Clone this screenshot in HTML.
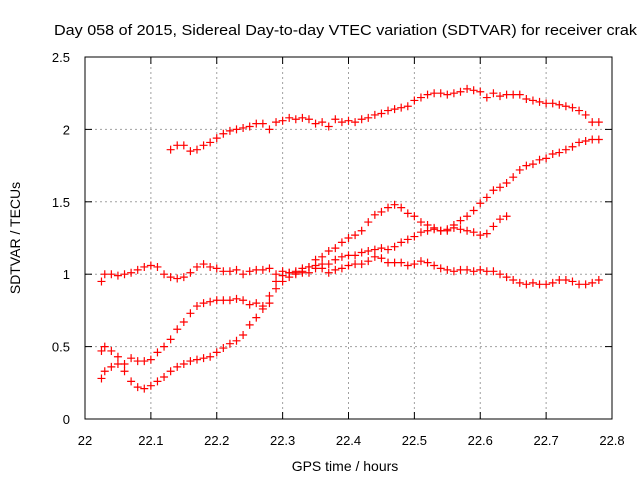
<!DOCTYPE html>
<html><head><meta charset="utf-8"><style>
body{margin:0;background:#fff}
svg{display:block;font-family:"Liberation Sans",sans-serif}
</style></head><body>
<svg id="chart" width="640" height="480">
<text x="54" y="35" font-size="15" textLength="583" lengthAdjust="spacingAndGlyphs">Day 058 of 2015, Sidereal Day-to-day VTEC variation (SDTVAR) for receiver crak</text>
<g id="grid"></g><g id="pts"></g><g id="axes"></g>
<text x="345" y="471" font-size="14" text-anchor="middle">GPS time / hours</text>
<text transform="translate(20,238) rotate(-90)" font-size="14" text-anchor="middle">SDTVAR / TECUs</text>
</svg>
<script>
const xTicks=[22,22.1,22.2,22.3,22.4,22.5,22.6,22.7,22.8];
const xTickLabels=["22","22.1","22.2","22.3","22.4","22.5","22.6","22.7","22.8"];
const yTicks=[0,0.5,1,1.5,2,2.5];
const yTickLabels=["0","0.5","1","1.5","2","2.5"];
const xA=[22.13,22.14,22.15,22.16,22.17,22.18,22.19,22.2,22.21,22.22,22.23,22.24,22.25,22.26,22.27,22.28,22.29,22.3,22.31,22.32,22.33,22.34,22.35,22.36,22.37,22.38,22.39,22.4,22.41,22.42,22.43,22.44,22.45,22.46,22.47,22.48,22.49,22.5,22.51,22.52,22.53,22.54,22.55,22.56,22.57,22.58,22.59,22.6,22.61,22.62,22.63,22.64,22.65,22.66,22.67,22.68,22.69,22.7,22.71,22.72,22.73,22.74,22.75,22.76,22.77,22.78];
const yA=[1.86,1.89,1.89,1.85,1.86,1.89,1.91,1.94,1.97,1.99,2.0,2.01,2.02,2.04,2.04,2.0,2.05,2.06,2.08,2.07,2.08,2.07,2.04,2.05,2.02,2.07,2.05,2.06,2.05,2.07,2.08,2.1,2.11,2.13,2.14,2.15,2.16,2.2,2.22,2.24,2.25,2.25,2.24,2.25,2.26,2.28,2.27,2.26,2.22,2.25,2.23,2.24,2.24,2.24,2.21,2.2,2.19,2.18,2.18,2.17,2.16,2.15,2.13,2.1,2.05,2.05];
const xB=[22.025,22.03,22.04,22.05,22.06,22.07,22.08,22.09,22.1,22.11,22.12,22.13,22.14,22.15,22.16,22.17,22.18,22.19,22.2,22.21,22.22,22.23,22.24,22.25,22.26,22.27,22.28,22.29,22.3,22.31,22.32,22.33,22.34,22.35,22.36,22.37,22.38,22.39,22.4,22.41,22.42,22.43,22.44,22.45,22.46,22.47,22.48,22.49,22.5,22.51,22.52,22.53,22.54,22.55,22.56,22.57,22.58,22.59,22.6,22.61,22.62,22.63,22.64,22.65,22.66,22.67,22.68,22.69,22.7,22.71,22.72,22.73,22.74,22.75,22.76,22.77,22.78];
const yB=[0.95,1.0,1.0,0.99,1.0,1.01,1.03,1.05,1.06,1.05,1.0,0.98,0.97,0.98,1.01,1.05,1.07,1.05,1.04,1.02,1.02,1.03,1.0,1.02,1.03,1.03,1.04,1.0,1.02,1.01,1.01,1.01,1.01,1.04,1.04,1.01,1.03,1.04,1.06,1.07,1.07,1.09,1.12,1.11,1.08,1.08,1.08,1.06,1.07,1.09,1.08,1.06,1.04,1.03,1.02,1.03,1.03,1.02,1.03,1.02,1.02,1.0,0.98,0.96,0.94,0.93,0.94,0.93,0.93,0.94,0.96,0.96,0.95,0.93,0.93,0.94,0.96];
const xC=[22.025,22.03,22.04,22.05,22.06,22.07,22.08,22.09,22.1,22.11,22.12,22.13,22.14,22.15,22.16,22.17,22.18,22.19,22.2,22.21,22.22,22.23,22.24,22.25,22.26,22.27,22.28,22.29,22.3,22.31,22.32,22.33,22.34,22.35,22.36,22.37,22.38,22.39,22.4,22.41,22.42,22.43,22.44,22.45,22.46,22.47,22.48,22.49,22.5,22.51,22.52,22.53,22.54,22.55,22.56,22.57,22.58,22.59,22.6,22.61,22.62,22.63,22.64];
const yC=[0.47,0.5,0.47,0.43,0.38,0.42,0.4,0.4,0.41,0.46,0.5,0.55,0.62,0.67,0.73,0.78,0.8,0.81,0.82,0.82,0.82,0.83,0.82,0.79,0.8,0.78,0.8,0.95,0.99,1.01,1.02,1.04,1.05,1.06,1.07,1.07,1.1,1.12,1.13,1.13,1.15,1.16,1.17,1.18,1.17,1.19,1.22,1.24,1.26,1.29,1.3,1.31,1.3,1.3,1.32,1.31,1.3,1.29,1.27,1.28,1.33,1.38,1.4];
const xD=[22.025,22.03,22.04,22.05,22.06,22.07,22.08,22.09,22.1,22.11,22.12,22.13,22.14,22.15,22.16,22.17,22.18,22.19,22.2,22.21,22.22,22.23,22.24,22.25,22.26,22.27,22.28,22.29,22.3,22.31,22.32,22.33,22.34,22.35,22.36,22.37,22.38,22.39,22.4,22.41,22.42,22.43,22.44,22.45,22.46,22.47,22.48,22.49,22.5,22.51,22.52,22.53,22.54,22.55,22.56,22.57,22.58,22.59,22.6,22.61,22.62,22.63,22.64,22.65,22.66,22.67,22.68,22.69,22.7,22.71,22.72,22.73,22.74,22.75,22.76,22.77,22.78];
const yD=[0.28,0.33,0.36,0.38,0.33,0.26,0.22,0.21,0.23,0.26,0.29,0.33,0.36,0.38,0.4,0.41,0.42,0.43,0.46,0.49,0.52,0.54,0.58,0.65,0.7,0.76,0.85,0.9,0.95,0.98,1.0,1.02,1.05,1.1,1.12,1.16,1.18,1.22,1.25,1.27,1.3,1.36,1.41,1.43,1.46,1.48,1.46,1.42,1.4,1.36,1.34,1.32,1.3,1.31,1.34,1.37,1.4,1.44,1.49,1.53,1.58,1.6,1.63,1.67,1.72,1.75,1.76,1.79,1.8,1.83,1.84,1.86,1.88,1.91,1.92,1.93,1.93];

const L=85,R=612,T=57,B=419;
const sx=v=>L+(v-22)/0.8*(R-L);
const sy=v=>B-v/2.5*(B-T);
const NS="http://www.w3.org/2000/svg";
function mk(tag,attrs,parent){const e=document.createElementNS(NS,tag);for(const k in attrs)e.setAttribute(k,attrs[k]);parent.appendChild(e);return e;}
const grid=document.getElementById('grid'),axes=document.getElementById('axes'),pts=document.getElementById('pts');
xTicks.forEach((t,i)=>{const x=sx(t);
 if(i>0&&i<xTicks.length-1){const g=mk('line',{x1:x,x2:x,y1:T,y2:B,stroke:'#a0a0a0','stroke-dasharray':'2,3'},grid);
 
 }
 mk('line',{x1:x,x2:x,y1:B,y2:B-7,stroke:'#000'},axes);mk('line',{x1:x,x2:x,y1:T,y2:T+7,stroke:'#000'},axes);
 const tx=mk('text',{x:x,y:B+26,'font-size':13,'text-anchor':'middle'},axes);tx.textContent=xTickLabels[i];
 
 });
yTicks.forEach((t,i)=>{const y=sy(t);
 if(i>0&&i<yTicks.length-1){const g=mk('line',{x1:L,x2:R,y1:y,y2:y,stroke:'#a0a0a0','stroke-dasharray':'2,3'},grid);
 
 }
 mk('line',{x1:L,x2:L+7,y1:y,y2:y,stroke:'#000'},axes);mk('line',{x1:R,x2:R-7,y1:y,y2:y,stroke:'#000'},axes);
 const tx=mk('text',{x:L-15,y:y+5,'font-size':13,'text-anchor':'end'},axes);tx.textContent=yTickLabels[i];
 
 });
const box=mk('rect',{x:L,y:T,width:R-L,height:B-T,fill:'none',stroke:'#000'},axes);


[[xA,yA,'series-a'],[xB,yB,'series-b'],[xC,yC,'series-c'],[xD,yD,'series-d']].forEach(([xs,ys,nm])=>{
 const g=mk('g',{},pts);
 
 
 let d='';xs.forEach((xv,i)=>{const x=sx(xv),y=sy(ys[i]);d+=`M${x-4},${y}h8M${x},${y-4}v8`;});
 const p=mk('path',{d:d,stroke:'#ff0000','stroke-width':1.2,fill:'none'},g);
 
 
});
</script>
</body></html>
